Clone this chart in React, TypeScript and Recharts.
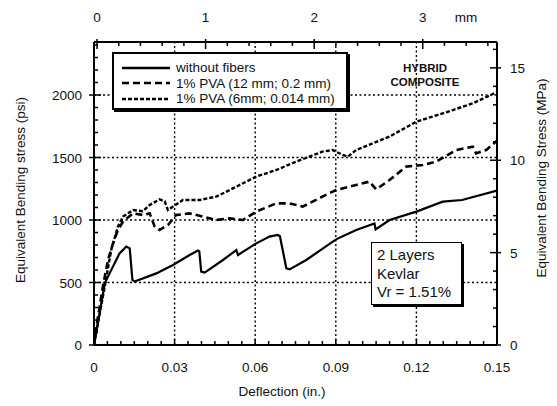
import React from "react";
import { LineChart, Line, XAxis, YAxis, ReferenceLine, Legend } from "recharts";

const FONT = '"Liberation Sans", Arial, Helvetica, sans-serif';

// deflection (in.) / equivalent bending stress (psi)
const plainDefl = [0, 0.0021, 0.004, 0.0058, 0.0095, 0.012, 0.0133, 0.0143, 0.0151, 0.0232, 0.0294, 0.0356, 0.0387, 0.0392, 0.0399, 0.0412, 0.048, 0.053, 0.0536, 0.0604, 0.0653, 0.0684, 0.0692, 0.0716, 0.0728, 0.079, 0.0901, 0.0976, 0.1044, 0.1048, 0.11, 0.12, 0.1298, 0.137, 0.15];
const plainStress = [0, 253, 493, 573, 733, 787, 773, 520, 507, 573, 640, 720, 755, 748, 587, 579, 680, 760, 720, 813, 867, 880, 870, 613, 605, 680, 845, 920, 973, 925, 1000, 1067, 1147, 1160, 1235];

const pva12Defl = [0, 0.0009, 0.0033, 0.0052, 0.0071, 0.0089, 0.0108, 0.0145, 0.0182, 0.0207, 0.0226, 0.0244, 0.0275, 0.0306, 0.0356, 0.0405, 0.0455, 0.0505, 0.0554, 0.0604, 0.0678, 0.0728, 0.0777, 0.085, 0.0901, 0.0976, 0.1025, 0.105, 0.11, 0.1162, 0.1224, 0.1273, 0.1348, 0.141, 0.1422, 0.146, 0.15];
const pva12Stress = [0, 147, 467, 680, 813, 920, 987, 1053, 1040, 1053, 947, 920, 960, 1040, 1053, 1027, 1000, 1013, 1000, 1067, 1133, 1133, 1107, 1187, 1240, 1280, 1307, 1245, 1320, 1427, 1440, 1467, 1560, 1587, 1533, 1560, 1635];

const pva6Defl = [0, 0.0003, 0.004, 0.0064, 0.0089, 0.0108, 0.0145, 0.0182, 0.0207, 0.0244, 0.0263, 0.0275, 0.0294, 0.0331, 0.0393, 0.0455, 0.0505, 0.0604, 0.0678, 0.0753, 0.085, 0.0888, 0.0926, 0.0945, 0.0976, 0.11, 0.12, 0.1298, 0.141, 0.15];
const pva6Stress = [0, 40, 467, 760, 947, 1027, 1080, 1070, 1120, 1165, 1150, 1080, 1107, 1160, 1160, 1187, 1240, 1347, 1400, 1467, 1547, 1560, 1520, 1507, 1560, 1667, 1787, 1853, 1933, 2024];

const SERIES_NAMES = ["without fibers", "1% PVA (12 mm; 0.2 mm)", "1% PVA (6mm; 0.014 mm)"];
const DASHES: Record<string, string | undefined> = {
  "without fibers": undefined,
  "1% PVA (12 mm; 0.2 mm)": "7 4",
  "1% PVA (6mm; 0.014 mm)": "4 2",
};

const IN_LABELS = [0, 0.03, 0.06, 0.09, 0.12, 0.15];
const PSI_LABELS = [0, 500, 1000, 1500, 2000];
const MPA_LABELS = [0, 5, 10, 15];
const MM_LABELS = [0, 1, 2, 3];
const GRID_X = [0.03, 0.06, 0.09, 0.12];
const GRID_Y = [500, 1000, 1500, 2000];

const steps = (a: number, b: number, s: number) => {
  const out: number[] = [];
  for (let v = a; v <= b + s / 2; v += s) out.push(+v.toFixed(4));
  return out;
};
const IN_TICKS = steps(0, 0.15, 0.005);
const PSI_TICKS = steps(0, 2400, 100);
const MPA_TICKS = steps(0, 16, 1);
const MM_TICKS = steps(0, 3.6, 0.2);

const pairs = (xs: number[], ys: number[]) => xs.map((x, i) => ({ x, y: ys[i] }));
const plainData = pairs(plainDefl, plainStress);
const pva12Data = pairs(pva12Defl, pva12Stress);
const pva6Data = pairs(pva6Defl, pva6Stress);

const isIn = (list: number[], v: number) => list.some((l) => Math.abs(l - v) < 1e-6);
const labelStyle = { fontFamily: FONT, fontSize: 13.5, fill: "#111" };

function BottomTick({ x, y, payload }: any) {
  const v = payload.value;
  const major = isIn(IN_LABELS, v);
  return (
    <g>
      <line x1={x} x2={x} y1={y} y2={y - (major ? 6 : 4)} stroke="#000" strokeWidth={1.5} />
      {major && (
        <text x={x} y={y + 27} textAnchor="middle" {...labelStyle}>
          {v === 0 ? "0" : v.toFixed(2)}
        </text>
      )}
    </g>
  );
}

function TopTick({ x, y, payload }: any) {
  const v = payload.value;
  const major = isIn(MM_LABELS, v);
  return (
    <g>
      <line x1={x} x2={x} y1={major ? y - 3 : y} y2={y + (major ? 7 : 4)} stroke="#000" strokeWidth={1.5} />
      {major && (
        <text x={x} y={y - 20} textAnchor="middle" {...labelStyle}>
          {v}
        </text>
      )}
    </g>
  );
}

function LeftTick({ x, y, payload }: any) {
  const v = payload.value;
  const major = isIn(PSI_LABELS, v);
  return (
    <g>
      <line x1={major ? x - 5 : x} x2={x + (major ? 7 : 4)} y1={y} y2={y} stroke="#000" strokeWidth={1.5} />
      {major && (
        <text x={x - 12} y={y + 5} textAnchor="end" {...labelStyle}>
          {v}
        </text>
      )}
    </g>
  );
}

function RightTick({ x, y, payload }: any) {
  const v = payload.value;
  const major = isIn(MPA_LABELS, v);
  return (
    <g>
      <line x1={x - (major ? 7 : 4)} x2={major ? x + 4 : x} y1={y} y2={y} stroke="#000" strokeWidth={1.5} />
      {major && (
        <text x={x + 13} y={y + 5} textAnchor="start" {...labelStyle}>
          {v}
        </text>
      )}
    </g>
  );
}

function LegendBox() {
  return (
    <div
      style={{
        boxSizing: "border-box",
        width: 236,
        height: 58,
        background: "#fff",
        border: "2px solid #000",
        boxShadow: "2px 2px 0 #000",
        paddingTop: 6,
        fontFamily: FONT,
        fontSize: 13.5,
        color: "#111",
      }}
    >
      {SERIES_NAMES.map((name) => (
        <div key={name} style={{ display: "flex", alignItems: "center", height: 15.5 }}>
          <svg width={62} height={10} style={{ flexShrink: 0 }}>
            <line x1={8} x2={56} y1={5} y2={5} stroke="#000" strokeWidth={2.4} strokeDasharray={DASHES[name]} />
          </svg>
          <span>{name}</span>
        </div>
      ))}
    </div>
  );
}

const abs = (left: number, top: number, extra: React.CSSProperties = {}): React.CSSProperties => ({
  position: "absolute",
  left,
  top,
  transform: "translate(-50%, -50%)",
  whiteSpace: "nowrap",
  fontFamily: FONT,
  color: "#111",
  ...extra,
});

export default function App() {
  return (
    <div style={{ position: "absolute", left: 0, top: 0, width: 557, height: 406, background: "#fff" }}>
      <LineChart width={557} height={406} margin={{ top: 0, right: 0, bottom: 0, left: 0 }}>
        <XAxis
          xAxisId="in"
          dataKey="x"
          type="number"
          domain={[0, 0.15]}
          ticks={IN_TICKS}
          interval={0}
          height={61}
          tickSize={0}
          tickMargin={0}
          tickLine={false}
          tick={(p: any) => <BottomTick {...p} />}
          axisLine={{ stroke: "#000", strokeWidth: 2 }}
          allowDataOverflow
        />
        <XAxis
          xAxisId="mm"
          dataKey="x"
          orientation="top"
          type="number"
          scale="linear"
          domain={[-0.028, 3.684]}
          ticks={MM_TICKS}
          interval={0}
          height={42}
          tickSize={0}
          tickMargin={0}
          tickLine={false}
          tick={(p: any) => <TopTick {...p} />}
          axisLine={{ stroke: "#000", strokeWidth: 2 }}
          allowDataOverflow
        />
        <YAxis
          yAxisId="psi"
          type="number"
          domain={[0, 2424]}
          ticks={PSI_TICKS}
          interval={0}
          width={94}
          tickSize={0}
          tickMargin={0}
          tickLine={false}
          tick={(p: any) => <LeftTick {...p} />}
          axisLine={{ stroke: "#000", strokeWidth: 2 }}
          allowDataOverflow
        />
        <YAxis
          yAxisId="mpa"
          orientation="right"
          type="number"
          domain={[0, 16.4]}
          ticks={MPA_TICKS}
          interval={0}
          width={60}
          tickSize={0}
          tickMargin={0}
          tickLine={false}
          tick={(p: any) => <RightTick {...p} />}
          axisLine={{ stroke: "#000", strokeWidth: 2 }}
          allowDataOverflow
        />
        {GRID_X.map((v) => (
          <ReferenceLine key={"gx" + v} xAxisId="in" yAxisId="psi" x={v} stroke="#000" strokeWidth={1.4} strokeDasharray="2 2.5" />
        ))}
        {GRID_Y.map((v) => (
          <ReferenceLine key={"gy" + v} xAxisId="in" yAxisId="psi" y={v} stroke="#000" strokeWidth={1.4} strokeDasharray="2 2.5" />
        ))}
        <Line
          xAxisId="in"
          yAxisId="psi"
          data={plainData}
          dataKey="y"
          name={SERIES_NAMES[0]}
          type="linear"
          stroke="#000"
          strokeWidth={2.2}
          dot={false}
          isAnimationActive={false}
        />
        <Line
          xAxisId="in"
          yAxisId="psi"
          data={pva12Data}
          dataKey="y"
          name={SERIES_NAMES[1]}
          type="linear"
          stroke="#000"
          strokeWidth={2.6}
          strokeDasharray={DASHES[SERIES_NAMES[1]]}
          dot={false}
          isAnimationActive={false}
        />
        <Line
          xAxisId="in"
          yAxisId="psi"
          data={pva6Data}
          dataKey="y"
          name={SERIES_NAMES[2]}
          type="linear"
          stroke="#000"
          strokeWidth={2.4}
          strokeDasharray={DASHES[SERIES_NAMES[2]]}
          dot={false}
          isAnimationActive={false}
        />
        <Legend
          layout="horizontal"
          verticalAlign="middle"
          align="center"
          content={() => <LegendBox />}
          wrapperStyle={{ left: 112, top: 52, width: 240, height: 60 }}
        />
      </LineChart>

      <div style={abs(466, 17, { fontSize: 13.5 })}>mm</div>
      <div style={abs(282, 391, { fontSize: 13.5 })}>Deflection (in.)</div>
      <div style={abs(20, 190, { fontSize: 13.5, transform: "translate(-50%, -50%) rotate(-90deg)" })}>
        Equivalent Bending stress (psi)
      </div>
      <div style={abs(541, 178, { fontSize: 13.5, transform: "translate(-50%, -50%) rotate(-90deg)" })}>
        Equivalent Bending Stress (MPa)
      </div>
      <div style={abs(425, 68, { fontSize: 11.5, fontWeight: 700 })}>HYBRID</div>
      <div style={abs(425, 82, { fontSize: 11.5, fontWeight: 700 })}>COMPOSITE</div>
      <div
        style={{
          position: "absolute",
          left: 371,
          top: 242,
          width: 91,
          height: 63,
          boxSizing: "border-box",
          background: "#fff",
          border: "1.5px solid #000",
          boxShadow: "2px 2px 0 #000",
          padding: "3px 0 0 5px",
          fontFamily: FONT,
          fontSize: 15,
          lineHeight: "18.5px",
          color: "#111",
        }}
      >
        <div>2 Layers</div>
        <div>Kevlar</div>
        <div>Vr = 1.51%</div>
      </div>
    </div>
  );
}
